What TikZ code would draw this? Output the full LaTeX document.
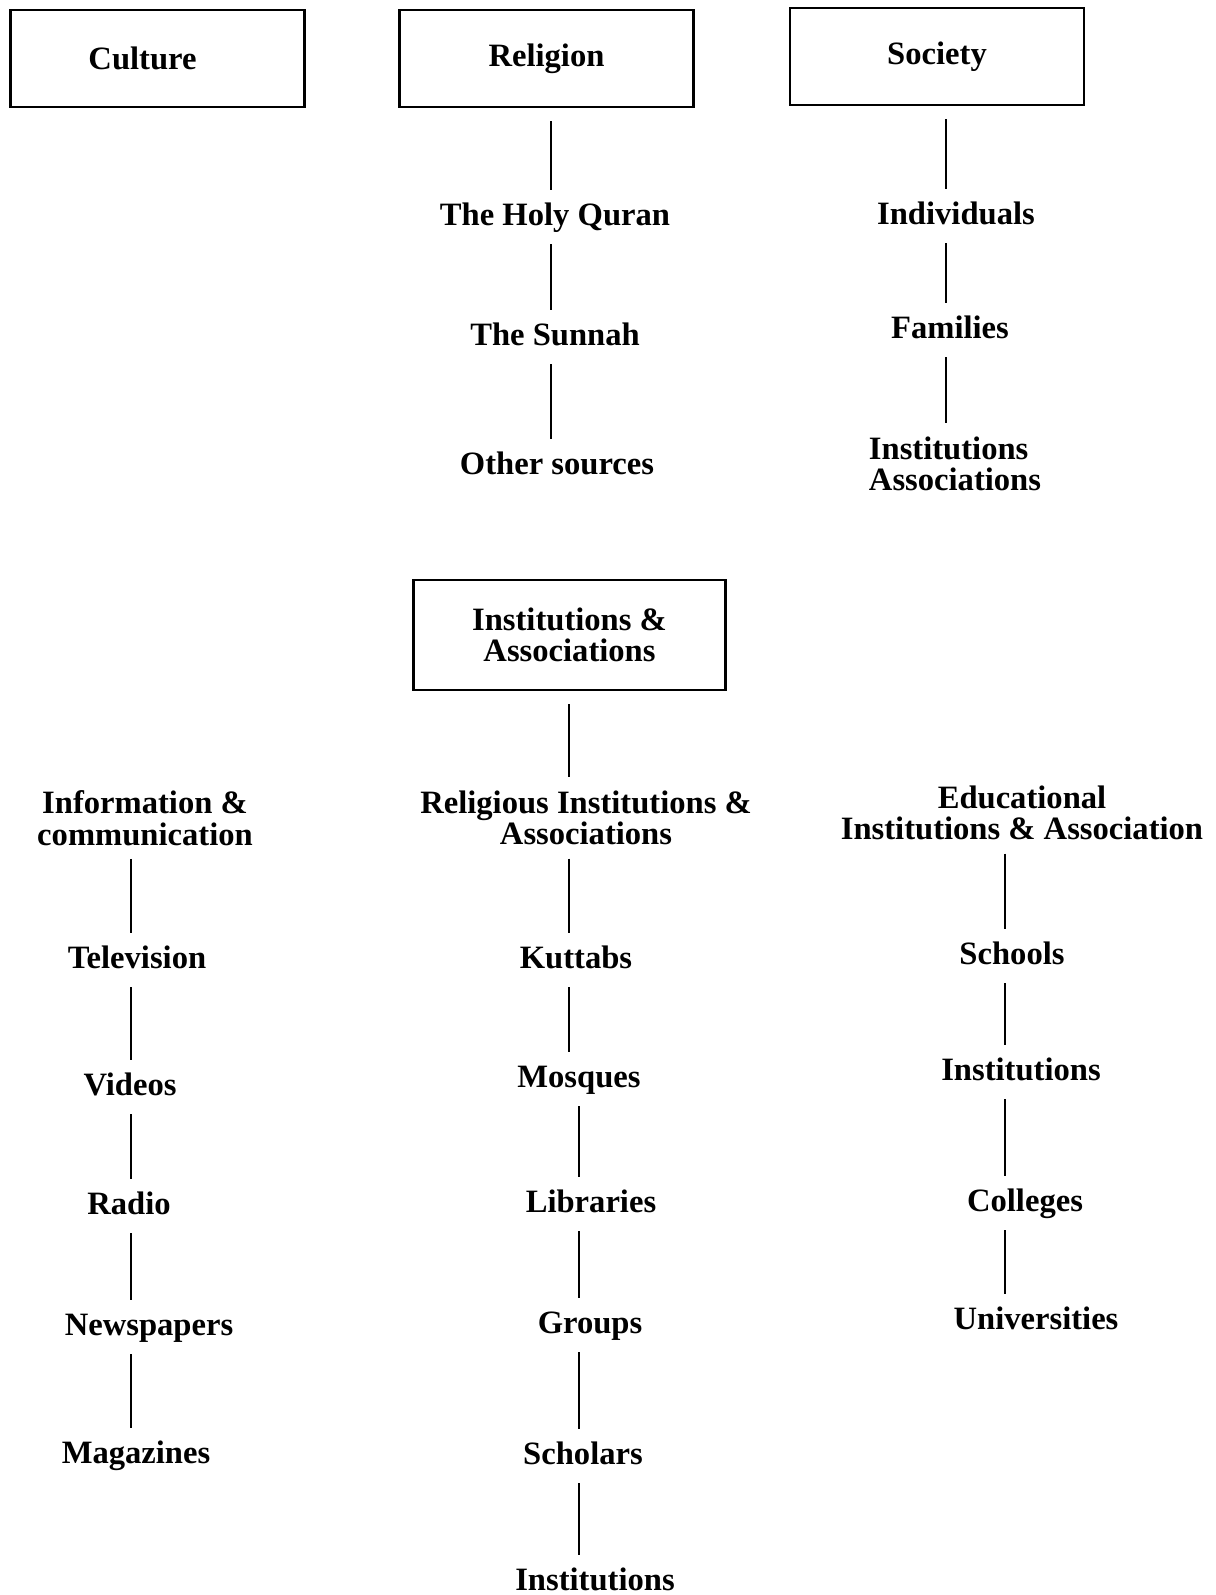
\documentclass[tikz,border=0pt]{standalone}
\usepackage{fontspec}
\setmainfont{Liberation Serif}
\newcommand{\diagfont}{\bfseries\fontsize{16.3}{15.8}\selectfont}

\begin{document}
\begin{tikzpicture}[x=0.5pt,y=-0.5pt,
    catbox/.style={draw,line width=1.2pt,minimum width=147pt,minimum height=48.5pt,align=center,font=\diagfont},
    item/.style={inner sep=0pt,text height=11pt,text depth=3pt,font=\diagfont},
    twoline/.style={inner sep=0pt,align=center,font=\diagfont},
    link/.style={line width=1.3pt,shorten <=6.5pt,shorten >=6.5pt}]

    \path[use as bounding box,fill=white] (0,0) rectangle (1215,1595);

    % x of the vertical links in each column
    \coordinate (relspine) at (551,0);
    \coordinate (socspine) at (946,0);
    \coordinate (infospine) at (131,0);
    \coordinate (midspine) at (569,0);
    \coordinate (midspineb) at (579,0);
    \coordinate (eduspine) at (1005,0);

    % top row
    \node[catbox] (culture) at (157.5,58.5) {Culture\hspace*{15pt}};
    \node[catbox] (religion) at (546.5,58.5) {Religion};
    \node[catbox] (society) at (937,56.5) {Society};

    \node[item] (quran) at (555,217) {The Holy Quran};
    \node[item] (sunnah) at (555,337) {The Sunnah};
    \node[item] (othersrc) at (557,466) {Other sources};

    \node[item] (indiv) at (956,216) {Individuals};
    \node[item] (families) at (950,330) {Families};
    \node[twoline,align=left] (socinst) at (955,464) {Institutions\\Associations};

    \path[link]
    (religion.south -| relspine) edge (quran.north -| relspine)
    (quran.south -| relspine) edge (sunnah.north -| relspine)
    (sunnah.south -| relspine) edge (othersrc.north -| relspine)
    (society.south -| socspine) edge (indiv.north -| socspine)
    (indiv.south -| socspine) edge (families.north -| socspine)
    (families.south -| socspine) edge (socinst.north -| socspine);

    % institutions
    \node[catbox,minimum width=156pt,minimum height=55pt] (instassoc) at (569.5,635) {Institutions \&\\Associations};

    \node[twoline] (info) at (145,818) {Information \&\\communication};
    \node[twoline] (relinst) at (586,818) {Religious Institutions \&\\Associations};
    \node[twoline] (eduinst) at (1022,813) {Educational\\Institutions \& Association};

    \node[item] (tv) at (137,960) {Television};
    \node[item] (videos) at (130,1087) {Videos};
    \node[item] (radio) at (129,1206) {Radio};
    \node[item] (newspapers) at (149,1327) {Newspapers};
    \node[item] (magazines) at (136,1455) {Magazines};

    \node[item] (kuttabs) at (576,960) {Kuttabs};
    \node[item] (mosques) at (579,1079) {Mosques};
    \node[item] (libraries) at (591,1204) {Libraries};
    \node[item] (groups) at (590,1325) {Groups};
    \node[item] (scholars) at (583,1456) {Scholars};
    \node[item] (relinstb) at (595,1582) {Institutions};

    \node[item] (schools) at (1012,956) {Schools};
    \node[item] (eduinstb) at (1021,1072) {Institutions};
    \node[item] (colleges) at (1025,1203) {Colleges};
    \node[item] (universities) at (1036,1321) {Universities};

    \path[link]
    (instassoc.south -| midspine) edge (relinst.north -| midspine)
    (info.south -| infospine) edge (tv.north -| infospine)
    (tv.south -| infospine) edge (videos.north -| infospine)
    (videos.south -| infospine) edge (radio.north -| infospine)
    (radio.south -| infospine) edge (newspapers.north -| infospine)
    (newspapers.south -| infospine) edge (magazines.north -| infospine)
    (relinst.south -| midspine) edge (kuttabs.north -| midspine)
    (kuttabs.south -| midspine) edge (mosques.north -| midspine)
    (mosques.south -| midspineb) edge (libraries.north -| midspineb)
    (libraries.south -| midspineb) edge (groups.north -| midspineb)
    (groups.south -| midspineb) edge (scholars.north -| midspineb)
    (scholars.south -| midspineb) edge (relinstb.north -| midspineb)
    (eduinst.south -| eduspine) edge (schools.north -| eduspine)
    (schools.south -| eduspine) edge (eduinstb.north -| eduspine)
    (eduinstb.south -| eduspine) edge (colleges.north -| eduspine)
    (colleges.south -| eduspine) edge (universities.north -| eduspine);

\end{tikzpicture}
\end{document}
